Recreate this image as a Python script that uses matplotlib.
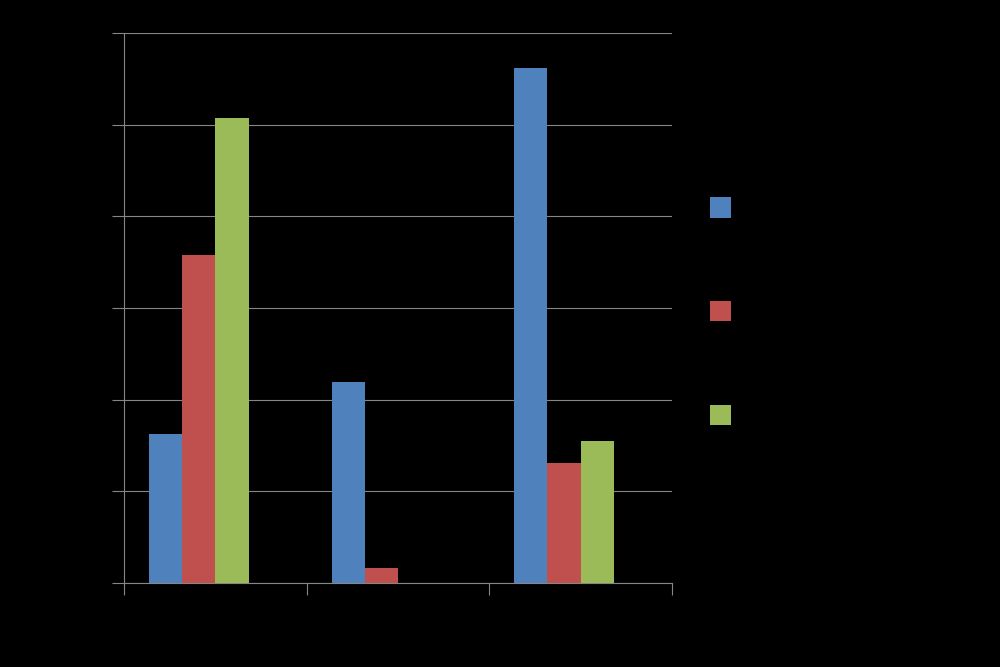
import numpy as np
import matplotlib.pyplot as plt

# data (all text in the reference is black on black)
categories = ["Category 1", "Category 2", "Category 3"]
series_names = ["Series 1", "Series 2", "Series 3"]
series1 = [16.3, 21.9, 56.2]
series2 = [35.8, 1.6, 13.1]
series3 = [50.7, 0.0, 15.5]
y_ticks = [0, 10, 20, 30, 40, 50, 60]

colors = ["#4F81BD", "#C0504D", "#9BBB59"]
grey = "#868686"

fig = plt.figure(figsize=(10, 6.67), dpi=100, facecolor="black")
ax = fig.add_axes([0.124, 0.1259, 0.548, 0.8246], facecolor="black")

x = np.arange(len(categories))
width = 1 / 5.5  # four slots per category, gap of 1.5 bars
offsets = [-1.5, -0.5, 0.5]
for vals, name, c, off in zip([series1, series2, series3], series_names,
                              colors, offsets):
    ax.bar(x + off * width, vals, width, color=c, label=name, zorder=3)

ax.set_xlim(-0.5, len(categories) - 0.5)
ax.set_ylim(0, 60)
ax.set_yticks(y_ticks)
ax.set_xticks(np.arange(len(categories) + 1) - 0.5)
ax.set_xticklabels([])
ax.set_xticks(x, categories, minor=True)
ax.tick_params(axis="x", which="minor", length=0, colors="black")
ax.tick_params(axis="x", which="major", length=8.6, width=0.8, color=grey,
               direction="out")
ax.tick_params(axis="y", length=8.6, width=0.8, color=grey,
               direction="out", labelcolor="black")

ax.grid(axis="y", color=grey, linewidth=0.8, zorder=0)
for side in ["top", "right"]:
    ax.spines[side].set_visible(False)
for side in ["left", "bottom"]:
    ax.spines[side].set_color(grey)
    ax.spines[side].set_linewidth(0.8)

leg = ax.legend(loc="upper left", bbox_to_anchor=(0.71, 0.7046),
                bbox_transform=fig.transFigure, frameon=False,
                fontsize=10, handlelength=1.5, handleheight=1.9,
                labelspacing=6.0, borderpad=0, borderaxespad=0,
                handletextpad=0.8)
for t in leg.get_texts():
    t.set_color("black")

fig.savefig("out.png", dpi=100, facecolor="black")
